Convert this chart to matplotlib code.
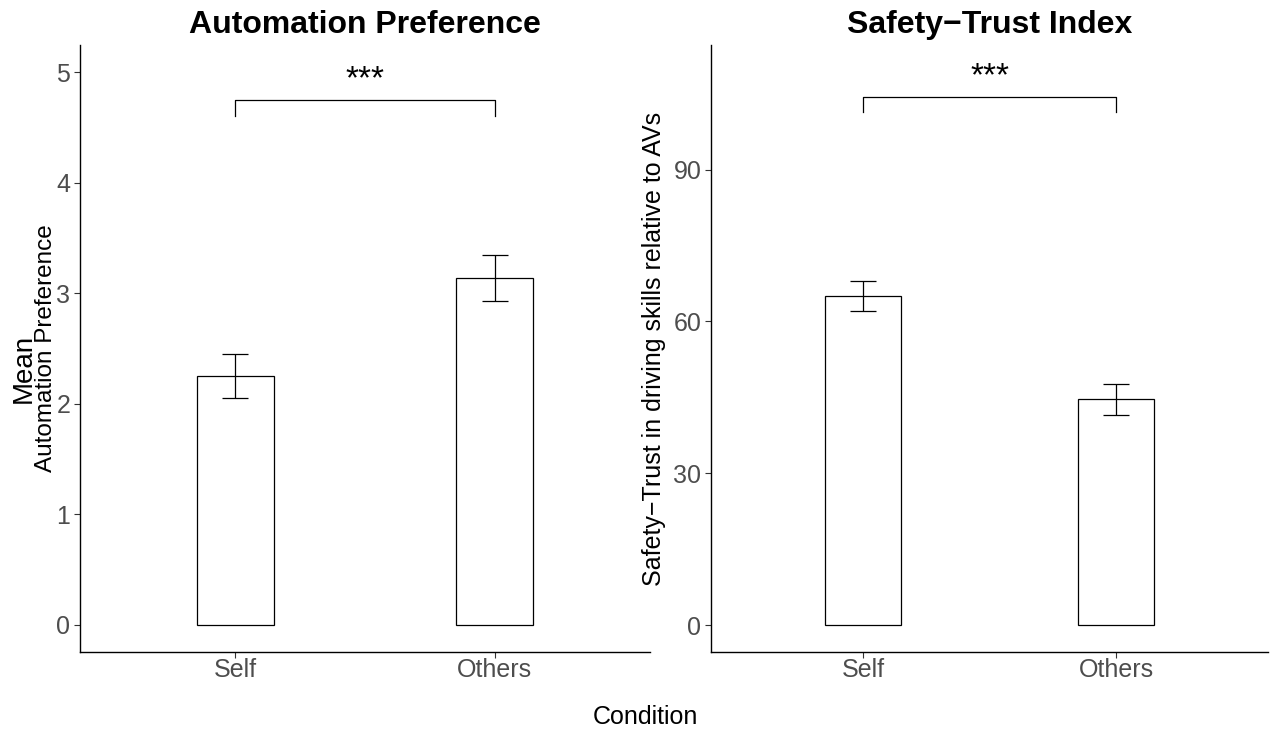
import matplotlib
matplotlib.use("Agg")
import matplotlib.pyplot as plt
import numpy as np

plt.rcParams['font.family'] = ['Liberation Sans', 'DejaVu Sans']

conditions = ["Self", "Others"]
auto_means = [2.25, 3.14]
auto_se = [0.20, 0.21]
trust_means = [65.0, 44.6]
trust_se = [2.9, 3.1]
auto_ticks = [0, 1, 2, 3, 4, 5]
trust_ticks = [0, 30, 60, 90]
sig_label = "***"

fig = plt.figure(figsize=(12.7, 7.32), dpi=100)
ax1 = fig.add_axes([80/1270, 80/732, 570/1270, 607/732])
ax2 = fig.add_axes([711/1270, 80/732, 557/1270, 607/732])

x = np.arange(1, len(conditions) + 1)
tick_grey = '#4D4D4D'

def style(ax):
    for s in ['top', 'right']:
        ax.spines[s].set_visible(False)
    for s in ['left', 'bottom']:
        ax.spines[s].set_linewidth(1.0)
        ax.spines[s].set_color('black')
    ax.tick_params(axis='both', length=4, width=0.8, color='#333333',
                   labelcolor=tick_grey, labelsize=18, pad=3)
    ax.tick_params(axis='x', pad=0)
    ax.set_xticks(x)
    ax.set_xticklabels(conditions)
    ax.set_xlim(0.4, 2.6)

def panel(ax, means, se, ticks, ylim, bracket_y, drop, star_y, title):
    ax.bar(x, means, width=0.30, color='white', edgecolor='black', linewidth=0.9, zorder=2)
    ax.errorbar(x, means, yerr=se, fmt='none', ecolor='black', elinewidth=0.9,
                capsize=9.4, capthick=0.9, zorder=3)
    ax.set_ylim(*ylim)
    ax.set_yticks(ticks)
    style(ax)
    ax.plot([x[0], x[0], x[1], x[1]], [bracket_y - drop, bracket_y, bracket_y, bracket_y - drop],
            color='black', linewidth=0.9)
    ax.text((x[0] + x[1]) / 2, star_y, sig_label, ha='center', va='center', fontsize=24)
    ax.set_title(title, fontsize=23, fontweight='bold', pad=8.5)

panel(ax1, auto_means, auto_se, auto_ticks, (-0.245, 5.245), 4.75, 0.15, 4.93,
      "Automation Preference")
panel(ax2, trust_means, trust_se, trust_ticks, (-5.3, 114.6), 104.3, 3.0, 108.3,
      "Safety\u2212Trust Index")

ax2.set_ylabel("Safety\u2212Trust in driving skills relative to AVs", fontsize=18, labelpad=5)

fig.text(24/1270, 1 - 368/732, "Mean", rotation=90, ha='center', va='center', fontsize=20)
fig.text(46/1270, 1 - 348/732, "Automation Preference", rotation=90, ha='center', va='center', fontsize=17.5)

fig.text(645/1270, 1 - 717/732, "Condition", ha='center', va='center', fontsize=18)

fig.savefig("out.png", dpi=100)
